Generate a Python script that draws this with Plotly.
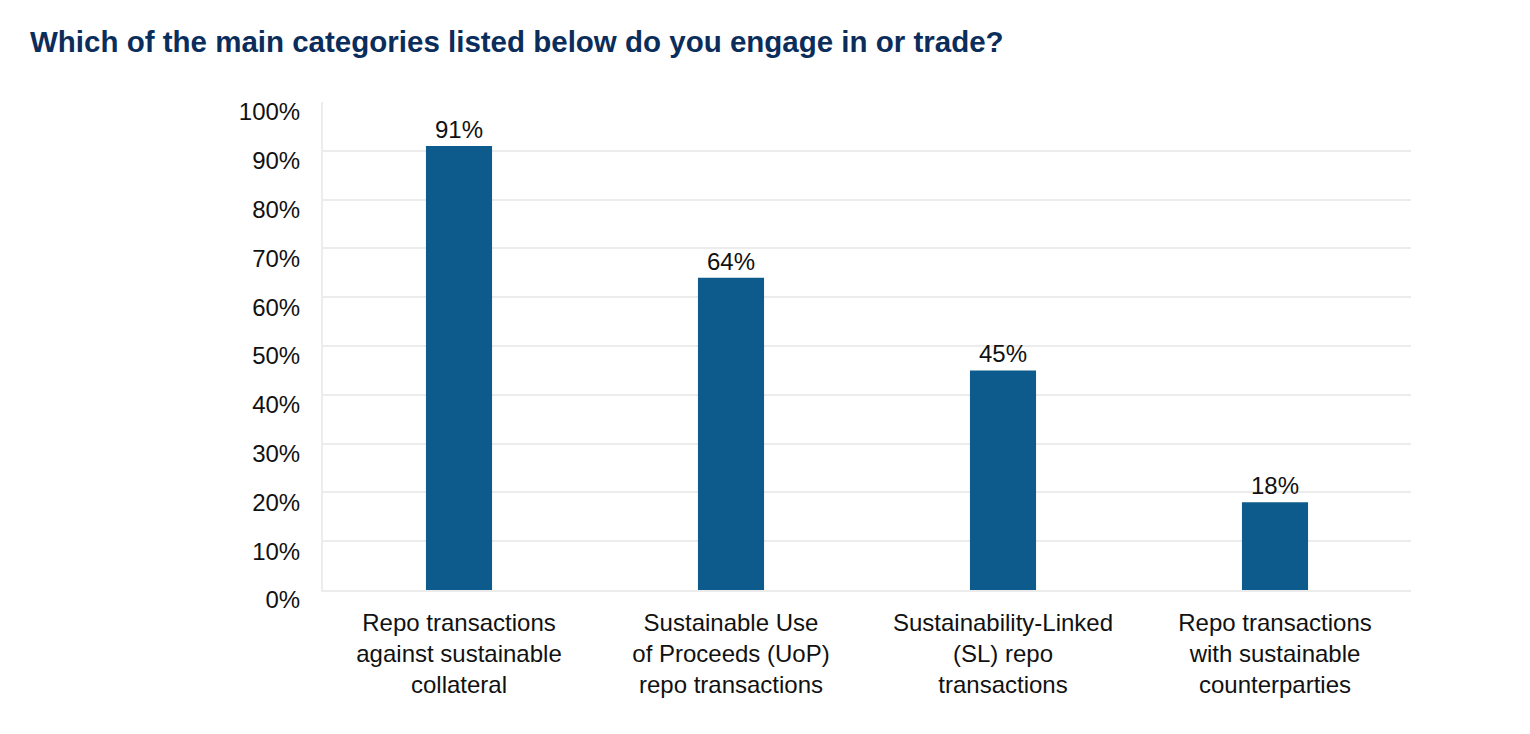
import plotly.graph_objects as go

categories = [
    "Repo transactions<br>against sustainable<br>collateral",
    "Sustainable Use<br>of Proceeds (UoP)<br>repo transactions",
    "Sustainability-Linked<br>(SL) repo<br>transactions",
    "Repo transactions<br>with sustainable<br>counterparties",
]
values = [91, 64, 45, 18]
tick_vals = [0, 10, 20, 30, 40, 50, 60, 70, 80, 90, 100]
tick_text = [f"{v}%" for v in tick_vals]
title_text = "Which of the main categories listed below do you engage in or trade?"

FONT = "Liberation Sans, Arial, Helvetica, sans-serif"

fig = go.Figure(
    go.Bar(
        x=categories,
        y=values,
        marker=dict(color="#0c5b8c", line=dict(width=0)),
        text=[f"{v}%" for v in values],
        textposition="outside",
        textfont=dict(size=24, color="#111111", family=FONT),
        cliponaxis=False,
    )
)

fig.update_layout(
    width=1530,
    height=734,
    paper_bgcolor="white",
    plot_bgcolor="white",
    margin=dict(l=315, r=127, t=94, b=152),
    bargap=0.757,
    showlegend=False,
    font=dict(family=FONT, color="#111111"),
    title=dict(
        text=f"<b>{title_text}</b>",
        x=22 / 1530,
        xanchor="left",
        y=1 - 34 / 734,
        yanchor="middle",
        font=dict(size=29.5, color="#0b2d5b", family=FONT),
    ),
)

fig.update_yaxes(
    range=[0, 100],
    tickvals=tick_vals,
    ticktext=tick_text,
    tickfont=dict(size=24, color="#111111"),
    showgrid=True,
    gridcolor="#ececec",
    gridwidth=2,
    zeroline=False,
    showline=True,
    linecolor="#ececec",
    linewidth=2,
    ticks="",
    ticklabelshift=10,
    ticklabelstandoff=16,
)
fig.update_xaxes(
    tickfont=dict(size=24, color="#111111"),
    showline=True,
    linecolor="#ececec",
    linewidth=2,
    ticks="",
    ticklabelstandoff=10,
)

fig.write_html("out.html")
